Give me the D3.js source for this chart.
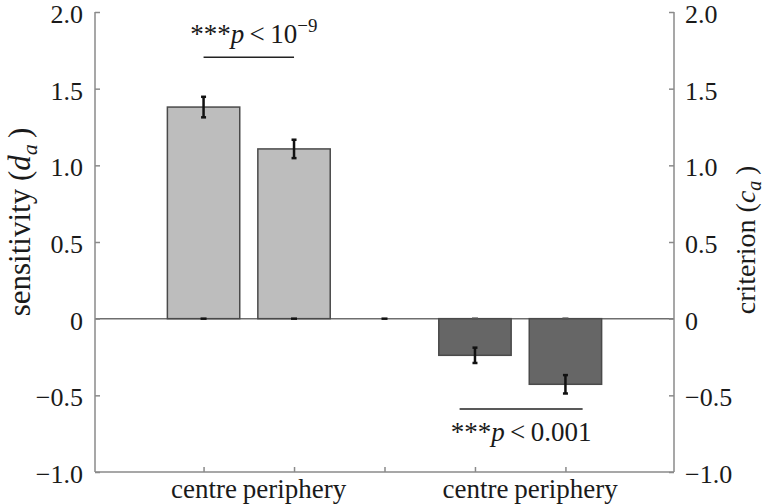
<!DOCTYPE html>
<html>
<head>
<meta charset="utf-8">
<script src="https://cdnjs.cloudflare.com/ajax/libs/d3/7.8.5/d3.min.js"></script>
<style>
body{margin:0;background:#fff;}
</style>
</head>
<body>
<div class="graph"></div>
<script>
// bar positions, labels and values
const positions = [1, 2, 3, 4, 5];
const tickLabels = ["centre", "periphery", "", "centre", "periphery"];
const values = [1.38, 1.107, 0, -0.239, -0.428];
const errors = [0.067, 0.06, 0, 0.05, 0.06];
const kinds = ["light", "light", "none", "dark", "dark"];
const yTicks = [-1, -0.5, 0, 0.5, 1, 1.5, 2];

// significance brackets
const sigFrom = [1, 3.83];
const sigTo = [2, 5.19];
const sigLevel = [1.705, -0.589];
const sigTextLevel = [1.80, -0.795];
const sigValue = ["10", "0.001"];
const sigExp = ["\u22129", ""];

const W = 769, H = 504;
const serif = "'Liberation Serif', 'Times New Roman', Times, serif";
const svg = d3.select(".graph").append("svg")
	.attr("width", W)
	.attr("height", H);

const x = d3.scaleLinear().domain([-0.2, 6.2]).range([95, 674]);
const y = d3.scaleLinear().domain([-1, 2]).range([472, 12]);
const fmt = function(d){ return d === 0 ? "0" : d3.format(".1f")(d); };

const axisColor = "#8a8a8a";

// zero line
svg.append("line")
	.attr("x1", x(-0.2)).attr("x2", x(6.2))
	.attr("y1", y(0)).attr("y2", y(0))
	.attr("stroke", "#6e6e6e")
	.attr("stroke-width", 1.5);

// bars
const bw = 0.8;
const bars = positions.map(function(p, i){ return {p: p, v: values[i], e: errors[i], k: kinds[i]}; });
svg.selectAll("rect.bar")
	.data(bars.filter(function(d){ return d.k != "none"; }))
	.enter().append("rect")
	.attr("class", "bar")
	.attr("x", function(d){ return x(d.p - bw / 2); })
	.attr("width", function(d){ return x(d.p + bw / 2) - x(d.p - bw / 2); })
	.attr("y", function(d){ return y(Math.max(0, d.v)); })
	.attr("height", function(d){ return Math.abs(y(d.v) - y(0)); })
	.attr("fill", function(d){ return d.k == "light" ? "#bdbdbd" : "#666666"; })
	.attr("stroke", "#4a4a4a")
	.attr("stroke-width", 1.5);

// little marks at the base of each bar
svg.selectAll("line.base")
	.data(bars)
	.enter().append("line")
	.attr("class", "base")
	.attr("x1", function(d){ return x(d.p) - 3; })
	.attr("x2", function(d){ return x(d.p) + 3; })
	.attr("y1", y(0)).attr("y2", y(0))
	.attr("stroke", function(d){ return d.k == "dark" ? "#555" : "#111"; })
	.attr("stroke-width", 2.5);

// error bars
const eb = svg.selectAll("g.err")
	.data(bars.filter(function(d){ return d.e > 0; }))
	.enter().append("g")
	.attr("class", "err")
	.attr("stroke", "#111")
	.attr("stroke-width", 2.5);
eb.append("line")
	.attr("x1", function(d){ return x(d.p); })
	.attr("x2", function(d){ return x(d.p); })
	.attr("y1", function(d){ return y(d.v - d.e); })
	.attr("y2", function(d){ return y(d.v + d.e); });
eb.append("line")
	.attr("x1", function(d){ return x(d.p) - 2.5; })
	.attr("x2", function(d){ return x(d.p) + 2.5; })
	.attr("y1", function(d){ return y(d.v - d.e); })
	.attr("y2", function(d){ return y(d.v - d.e); });
eb.append("line")
	.attr("x1", function(d){ return x(d.p) - 2.5; })
	.attr("x2", function(d){ return x(d.p) + 2.5; })
	.attr("y1", function(d){ return y(d.v + d.e); })
	.attr("y2", function(d){ return y(d.v + d.e); });

// axes
const left = svg.append("g")
	.attr("transform", "translate(" + x(-0.2) + ",0)")
	.call(d3.axisLeft(y).tickValues(yTicks).tickFormat(fmt).tickSize(-5).tickPadding(12));
const right = svg.append("g")
	.attr("transform", "translate(" + x(6.2) + ",0)")
	.call(d3.axisRight(y).tickValues(yTicks).tickFormat(fmt).tickSize(-5).tickPadding(11));
const bottom = svg.append("g")
	.attr("transform", "translate(0," + y(-1) + ")")
	.call(d3.axisBottom(x).tickValues(positions).tickFormat(function(d, i){ return tickLabels[i]; }).tickSize(-5).tickPadding(7));

[left, right, bottom].forEach(function(a){
	a.attr("font-family", null);
	a.select(".domain").attr("stroke", axisColor).attr("stroke-width", 1.5)
		.attr("d", a === bottom ? "M" + x(-0.2) + ",0H" + x(6.2) : "M0," + y(2) + "V" + y(-1));
	a.selectAll(".tick line").attr("stroke", axisColor).attr("stroke-width", 1.5);
	a.selectAll(".tick text")
		.style("font-family", serif)
		.style("font-size", "26px")
		.attr("fill", "#1a1a1a");
});
bottom.selectAll(".tick text").style("font-size", "27px");
left.selectAll(".tick text").attr("dy", "0.4em");
right.selectAll(".tick text").attr("dy", "0.4em");

// axis titles
const lt = svg.append("text")
	.attr("transform", "translate(30," + 222 + ") rotate(-90)")
	.attr("text-anchor", "middle")
	.attr("fill", "#1a1a1a")
	.style("font-family", serif)
	.style("font-size", "31px");
lt.append("tspan").text("sensitivity (");
lt.append("tspan").attr("font-style", "italic").text("d");
lt.append("tspan").attr("font-style", "italic").style("font-size", "22px").attr("dy", 7).text("a");
lt.append("tspan").attr("dy", -7).text("\u2009)");

const rt = svg.append("text")
	.attr("transform", "translate(755," + 240 + ") rotate(-90)")
	.attr("text-anchor", "middle")
	.attr("fill", "#1a1a1a")
	.style("font-family", serif)
	.style("font-size", "28px");
rt.append("tspan").text("criterion (");
rt.append("tspan").attr("font-style", "italic").text("c");
rt.append("tspan").attr("font-style", "italic").style("font-size", "20px").attr("dy", 6).text("a");
rt.append("tspan").attr("dy", -6).text("\u2009)");

// significance brackets and labels
const sigShift = [5, 0];
sigFrom.forEach(function(f, i){
	svg.append("line")
		.attr("x1", x(f)).attr("x2", x(sigTo[i]))
		.attr("y1", y(sigLevel[i])).attr("y2", y(sigLevel[i]))
		.attr("stroke", "#222")
		.attr("stroke-width", 1.5);
	const t = svg.append("text")
		.attr("x", x((f + sigTo[i]) / 2) + sigShift[i])
		.attr("y", y(sigTextLevel[i]))
		.attr("text-anchor", "middle")
		.attr("fill", "#1a1a1a")
		.style("font-family", serif)
		.style("font-size", "27px");
	t.append("tspan").text("***");
	t.append("tspan").attr("font-style", "italic").text("p");
	t.append("tspan").text("\u2009<\u2009" + sigValue[i]);
	if(sigExp[i] != ""){
		t.append("tspan").style("font-size", "19px").attr("dy", -11).text(sigExp[i]);
	}
});
</script>
</body>
</html>
